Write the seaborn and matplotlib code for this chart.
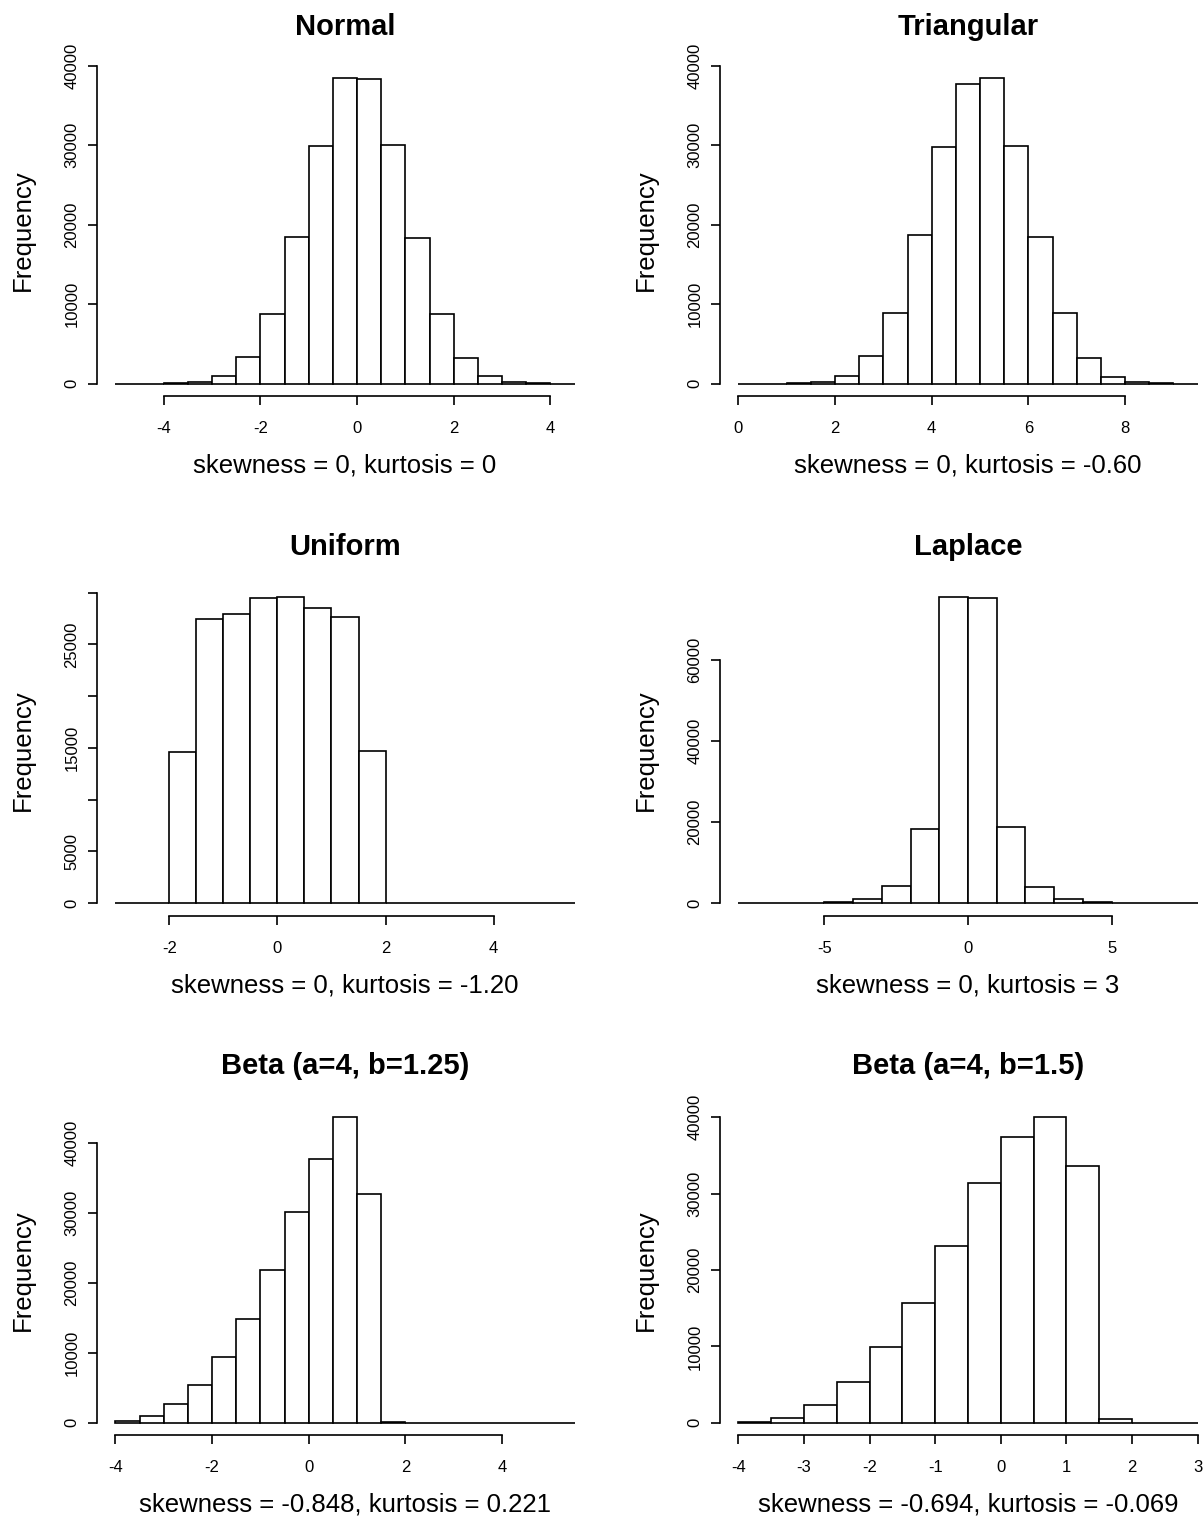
import numpy as np
import pandas as pd
import matplotlib
matplotlib.use("Agg")
import matplotlib.pyplot as plt
import seaborn as sns

# ---------------- data ----------------
titles = ["Normal", "Triangular", "Uniform", "Laplace",
          "Beta (a=4, b=1.25)", "Beta (a=4, b=1.5)"]
subtitles = ["skewness = 0, kurtosis = 0",
             "skewness = 0, kurtosis = -0.60",
             "skewness = 0, kurtosis = -1.20",
             "skewness = 0, kurtosis = 3",
             "skewness = -0.848, kurtosis = 0.221",
             "skewness = -0.694, kurtosis = -0.069"]

# bin start / bin width / counts per bin
normal_start, normal_width = -5.0, 0.5
normal_counts = [3, 6, 40, 220, 980, 3400, 8750, 18450, 29950, 38500,
                 38330, 30080, 18350, 8780, 3280, 990, 230, 40, 5]

triangular_start, triangular_width = 0.0, 0.5
triangular_counts = [0, 2, 30, 180, 960, 3430, 8920, 18760, 29780, 37740,
                     38490, 29950, 18390, 8920, 3270, 860, 250, 40, 3]

uniform_start, uniform_width = -3.0, 0.5
uniform_counts = [0, 0, 14610, 27480, 27940, 29480, 29550, 28520, 27680,
                  14740, 0, 0, 0, 0, 0, 0, 0]

laplace_start, laplace_width = -8.0, 1.0
laplace_counts = [5, 15, 65, 260, 1000, 4280, 18200, 75400, 75250, 18700,
                  4030, 950, 250, 70, 15, 5]

beta1_start, beta1_width = -4.0, 0.5
beta1_counts = [200, 1000, 2670, 5380, 9380, 14810, 21860, 30100, 37670,
                43760, 32670, 50, 0, 0, 0, 0, 0, 0, 0]

beta2_start, beta2_width = -4.0, 0.5
beta2_counts = [90, 650, 2310, 5320, 9860, 15660, 23200, 31440, 37370,
                40080, 33580, 520, 0, 0]

x_ticks = [[-4, -2, 0, 2, 4], [0, 2, 4, 6, 8], [-2, 0, 2, 4], [-5, 0, 5],
           [-4, -2, 0, 2, 4], [-4, -3, -2, -1, 0, 1, 2, 3]]
y_ticks = [[0, 10000, 20000, 30000, 40000],
           [0, 10000, 20000, 30000, 40000],
           [0, 5000, 10000, 15000, 20000, 25000, 30000],
           [0, 20000, 40000, 60000],
           [0, 10000, 20000, 30000, 40000],
           [0, 10000, 20000, 30000, 40000]]
y_tick_labels = [["0", "10000", "20000", "30000", "40000"],
                 ["0", "10000", "20000", "30000", "40000"],
                 ["0", "5000", "", "15000", "", "25000", ""],
                 ["0", "20000", "40000", "60000"],
                 ["0", "10000", "20000", "30000", "40000"],
                 ["0", "10000", "20000", "30000", "40000"]]

panels = [(normal_start, normal_width, normal_counts),
          (triangular_start, triangular_width, triangular_counts),
          (uniform_start, uniform_width, uniform_counts),
          (laplace_start, laplace_width, laplace_counts),
          (beta1_start, beta1_width, beta1_counts),
          (beta2_start, beta2_width, beta2_counts)]

# ---------------- style ----------------
sns.set_style("ticks")
plt.rcParams["font.family"] = ["Liberation Sans", "DejaVu Sans"]
plt.rcParams["axes.linewidth"] = 1.2
plt.rcParams["xtick.major.width"] = 1.2
plt.rcParams["ytick.major.width"] = 1.2
plt.rcParams["xtick.major.size"] = 6.7
plt.rcParams["ytick.major.size"] = 6.7
plt.rcParams["xtick.direction"] = "out"
plt.rcParams["ytick.direction"] = "out"
plt.rcParams["axes.edgecolor"] = "black"
plt.rcParams["xtick.color"] = "black"
plt.rcParams["ytick.color"] = "black"
plt.rcParams["xtick.labelcolor"] = "black"
plt.rcParams["ytick.labelcolor"] = "black"
plt.rcParams["text.color"] = "black"
plt.rcParams["axes.labelcolor"] = "black"
plt.rcParams["axes.titlecolor"] = "black"

W, H = 1204, 1521
fig = plt.figure(figsize=(W / 100, H / 100), dpi=100)
fig.patch.set_facecolor("white")

col_left = [97, 720]
col_width = 496
row_top = [65.4, 585.0, 1104.5]
row_height = 330.5

for i, (start, width, counts) in enumerate(panels):
    r, c = divmod(i, 2)
    left = col_left[c] / W
    bottom = 1 - (row_top[r] + row_height) / H
    ax = fig.add_axes([left, bottom, col_width / W, row_height / H])

    counts = np.asarray(counts, dtype=float)
    edges = start + width * np.arange(len(counts) + 1)
    centers = edges[:-1] + width / 2
    df = pd.DataFrame({"value": centers, "count": counts})

    sns.histplot(data=df, x="value", weights="count", bins=list(edges),
                 ax=ax, stat="count", color="white", edgecolor="black",
                 linewidth=1.2, alpha=1.0)

    span = edges[-1] - edges[0]
    ax.set_xlim(edges[0] - 0.04 * span, edges[-1] + 0.04 * span)
    ymax = counts.max()
    ax.set_ylim(-0.04 * ymax, 1.04 * ymax)

    ax.set_xticks(x_ticks[i])
    ax.set_yticks(y_ticks[i])
    sns.despine(ax=ax, trim=True)
    ax.set_xticks(x_ticks[i], [str(t) for t in x_ticks[i]])
    ax.set_yticks(y_ticks[i], y_tick_labels[i])

    ax.tick_params(axis="x", labelsize=12, pad=11.5)
    ax.tick_params(axis="y", labelsize=12, pad=6)
    for lab in ax.get_yticklabels():
        lab.set_rotation(90)
        lab.set_va("center")
        lab.set_ha("right")

    ax.set_title(titles[i], fontsize=21, fontweight="bold", pad=21.9)
    ax.set_xlabel(subtitles[i], fontsize=18.5)
    ax.xaxis.label.set_va("baseline")
    ax.xaxis.set_label_coords(0.5, -76.7 / row_height)
    ax.set_ylabel("Frequency", fontsize=18.5)
    ax.yaxis.label.set_va("baseline")
    ax.yaxis.set_label_coords(-67 / col_width, 0.5)

fig.savefig("out.png", dpi=100, facecolor="white")
